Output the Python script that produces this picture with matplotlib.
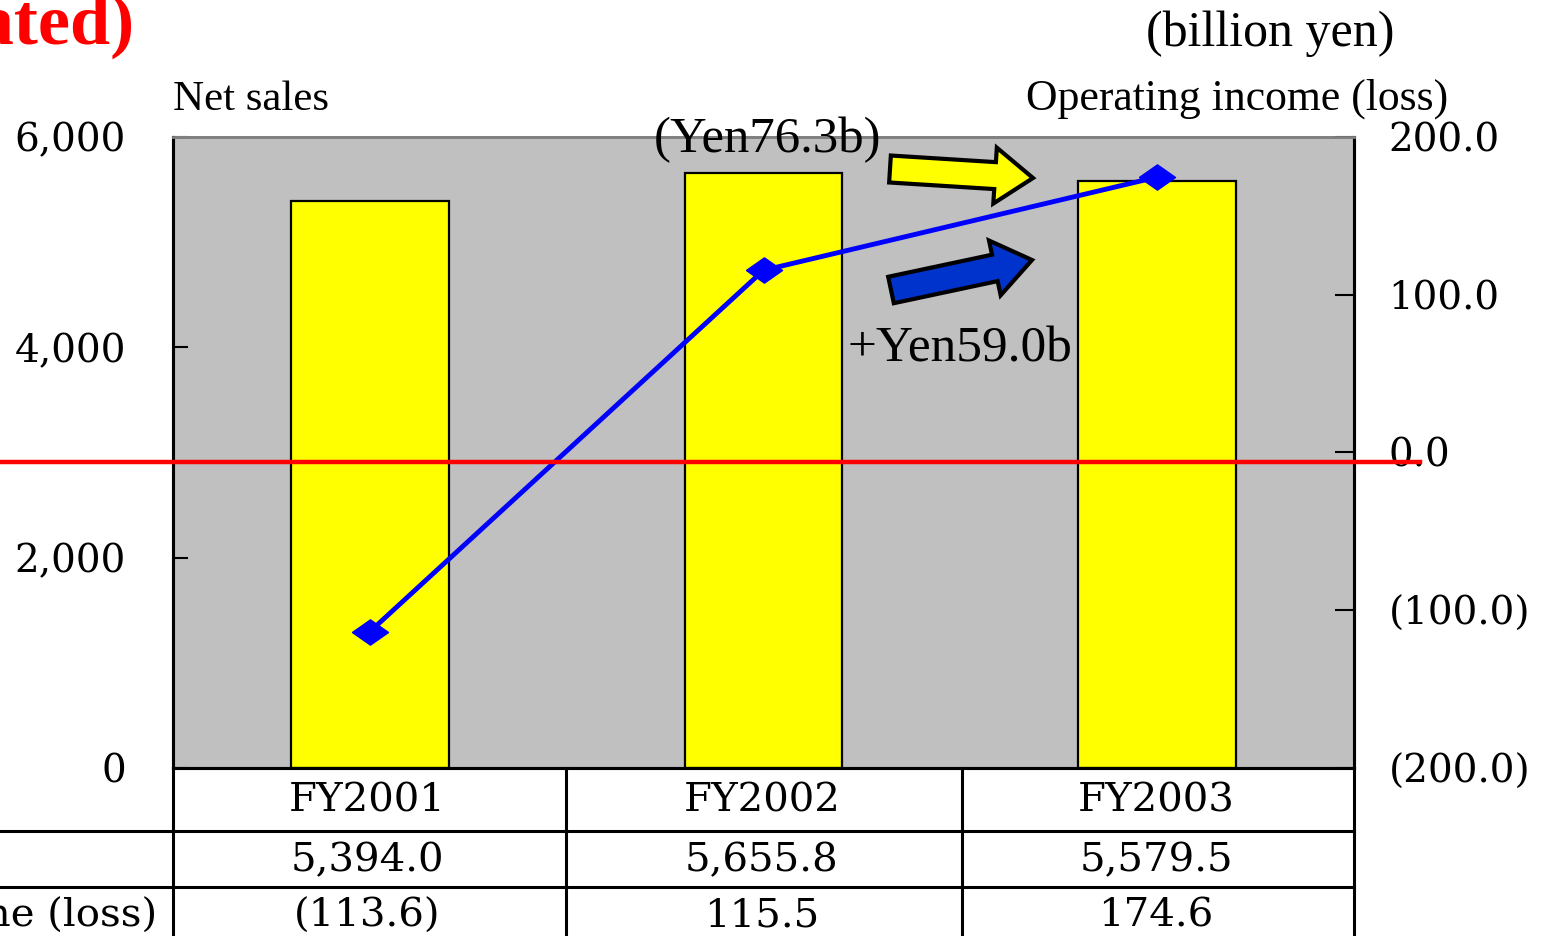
import matplotlib.pyplot as plt
from matplotlib.patches import FancyArrow
from matplotlib.lines import Line2D

# data
years = ["FY2001", "FY2002", "FY2003"]
net_sales = [5394.0, 5655.8, 5579.5]
op_income = [-113.6, 115.5, 174.6]
net_sales_txt = ["5,394.0", "5,655.8", "5,579.5"]
op_income_txt = ["(113.6)", "115.5", "174.6"]
left_ticks = [0, 2000, 4000, 6000]
right_ticks = [-200, -100, 0, 100, 200]

W, H = 1555, 936
fig = plt.figure(figsize=(W / 100, H / 100), dpi=100)

def fx(px):
    return px / W

def fy(py):
    return 1 - py / H

num_font = "DejaVu Serif"
txt_font = "Liberation Serif"

ax = fig.add_axes([fx(173), fy(768), fx(1354) - fx(173), fy(137) - fy(768)])
ax.set_facecolor("#C0C0C0")
x = list(range(len(years)))
ax.bar(x, net_sales, width=0.4, color="#FFFF00", edgecolor="black", linewidth=1.6, zorder=2)
ax.set_xlim(-0.5, 2.5)
ax.set_ylim(0, 6000)
ax.set_xticks([])
ax.set_yticks(left_ticks)
ax.set_yticklabels([f"{v:,}" for v in left_ticks], fontsize=28, family=num_font)
ax.tick_params(axis="y", direction="in", length=11, width=1.5, pad=34)

ax2 = ax.twinx()
ax2.set_ylim(-200, 200)
ax2.set_yticks(right_ticks)
ax2.set_yticklabels([f"({abs(v):.1f})" if v < 0 else f"{v:.1f}" for v in right_ticks],
                    fontsize=28, family=num_font)
for t in ax2.get_yticklabels():
    t.set_horizontalalignment("left")
ax2.tick_params(axis="y", direction="in", length=14, width=1.5, pad=25)
ax2.plot(x, op_income, color="#0000FF", linewidth=3.5,
         marker=[(-1, 0), (0, 0.7), (1, 0), (0, -0.7), (-1, 0)],
         markersize=26, markerfacecolor="#0000FF", markeredgecolor="#0000FF", zorder=5)

for a in (ax, ax2):
    a.spines["top"].set_color("#808080")
    a.spines["top"].set_linewidth(2)
    a.spines["left"].set_linewidth(2.2)
    a.spines["right"].set_linewidth(2.2)
    a.spines["bottom"].set_linewidth(2.2)

# red zero line across the figure
fig.add_artist(Line2D([0, fx(1420)], [fy(462), fy(462)], color="#FF0000", linewidth=3.2,
                      transform=fig.transFigure, zorder=10))

# arrows (inch coordinates keep them undistorted)
def arrow(x0, y0, x1, y1, color):
    dx, dy = (x1 - x0) / 100, -(y1 - y0) / 100
    fig.add_artist(FancyArrow(x0 / 100, (H - y0) / 100, dx, dy, width=0.27,
                              head_width=0.56, head_length=0.38, length_includes_head=True,
                              facecolor=color, edgecolor="black", linewidth=3,
                              transform=fig.dpi_scale_trans, zorder=6))

arrow(890, 169, 1033, 178, "#FFFF00")
arrow(891, 290, 1032, 260, "#0033CC")

# texts
fig.text(fx(135), fy(44), "(Consolidated)", color="#FF0000", fontsize=52,
         fontweight="bold", family=txt_font, ha="right", va="baseline")
fig.text(fx(1270), fy(46), "(billion yen)", fontsize=36, family=txt_font, ha="center", va="baseline")
fig.text(fx(173), fy(110), "Net sales", fontsize=31, family=txt_font, ha="left", va="baseline")
fig.text(fx(1448), fy(110), "Operating income (loss)", fontsize=31.5, family=txt_font,
         ha="right", va="baseline")
fig.text(fx(767), fy(152), "(Yen76.3b)", fontsize=36.5, family=txt_font, ha="center", va="baseline")
fig.text(fx(960), fy(362), "+Yen59.0b", fontsize=37, family=txt_font, ha="center", va="baseline")

# table under the chart
lw = 2.2
for py in (831, 887):
    fig.add_artist(Line2D([0, fx(1354)], [fy(py), fy(py)], color="black", linewidth=lw,
                          transform=fig.transFigure))
for px in (173, 566, 962, 1354):
    fig.add_artist(Line2D([fx(px), fx(px)], [fy(768), 0], color="black", linewidth=lw,
                          transform=fig.transFigure))

col_centers = [367, 762, 1156]
for cx, yr, ns, oi in zip(col_centers, years, net_sales_txt, op_income_txt):
    fig.text(fx(cx), fy(801), yr, fontsize=29, family=num_font, ha="center", va="center")
    fig.text(fx(cx), fy(861), ns, fontsize=29, family=num_font, ha="center", va="center")
    fig.text(fx(cx), fy(916), oi, fontsize=29, family=num_font, ha="center", va="center")

fig.text(fx(-332), fy(861), "Net sales", fontsize=29, family=num_font, ha="left", va="center")
fig.text(fx(-332), fy(916), "Operating income (loss)", fontsize=29, family=num_font,
         ha="left", va="center")

fig.savefig("out.png", dpi=100)
